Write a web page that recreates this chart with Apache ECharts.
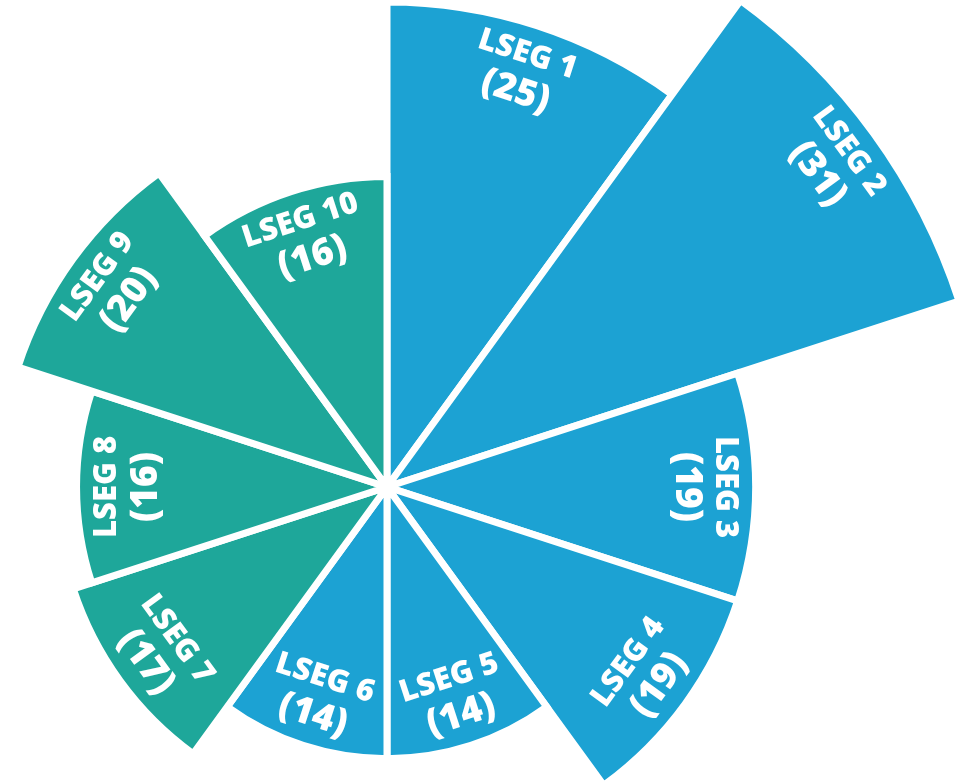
<!DOCTYPE html>
<html>
<head>
<meta charset="utf-8">
<script src="https://cdn.jsdelivr.net/npm/echarts@6.0.0/dist/echarts.min.js"></script>
<style>
html,body{margin:0;padding:0;background:#ffffff;}
#c{width:966px;height:781px;}
</style>
</head>
<body>
<div id="c"></div>
<script>
// ---- data ----
const categories = ['LSEG 1','LSEG 2','LSEG 3','LSEG 4','LSEG 5','LSEG 6','LSEG 7','LSEG 8','LSEG 9','LSEG 10'];
const values = [25, 31, 19, 19, 14, 14, 17, 16, 20, 16];
const groups = ['blue','blue','blue','blue','blue','blue','teal','teal','teal','teal'];

// ---- style ----
const palette = { blue: '#1ca2d3', teal: '#1ea79a' };
const LABEL_INSET = 2.6; // label sits this many value units inside the outer arc
const FONT = "'Open Sans', 'Noto Sans', sans-serif";

const step = 360 / categories.length;
function tangentialRotate(i) {
  const theta = step / 2 + step * i; // clockwise from 12 o'clock
  return (theta > 90 && theta < 270) ? 180 - theta : -theta;
}

const chart = echarts.init(document.getElementById('c'));
chart.setOption({
  animation: false,
  backgroundColor: '#ffffff',
  polar: { center: [387, 487], radius: [0, 601.5] },
  angleAxis: {
    type: 'category', data: categories, startAngle: 90, clockwise: true, boundaryGap: true,
    axisLine: { show: false }, axisTick: { show: false }, axisLabel: { show: false }, splitLine: { show: false }
  },
  radiusAxis: {
    type: 'value', min: 0, max: Math.max.apply(null, values),
    axisLine: { show: false }, axisTick: { show: false }, axisLabel: { show: false }, splitLine: { show: false }
  },
  series: [
    {
      type: 'bar', coordinateSystem: 'polar', barCategoryGap: '0%', silent: true, z: 2,
      data: values.map((v, i) => ({
        value: v,
        itemStyle: { color: palette[groups[i]], borderColor: '#ffffff', borderWidth: 7 }
      }))
    },
    {
      type: 'scatter', coordinateSystem: 'polar', symbolSize: 1, silent: true, z: 5,
      itemStyle: { color: 'rgba(0,0,0,0)', opacity: 1 },
      data: values.map((v, i) => ({
        name: categories[i],
        value: [v - LABEL_INSET, i],
        label: { rotate: tangentialRotate(i) }
      })),
      label: {
        show: true, position: 'inside', opacity: 1,
        formatter: p => '{a|' + p.name + '}\n{b|(' + values[p.dataIndex] + ')}',
        rich: {
          a: { color: '#ffffff', fontFamily: FONT, fontWeight: 800, fontSize: 31, lineHeight: 38, align: 'center' },
          b: { color: '#ffffff', fontFamily: FONT, fontWeight: 800, fontSize: 37, lineHeight: 40, align: 'center' }
        }
      }
    }
  ]
});
</script>
</body>
</html>
